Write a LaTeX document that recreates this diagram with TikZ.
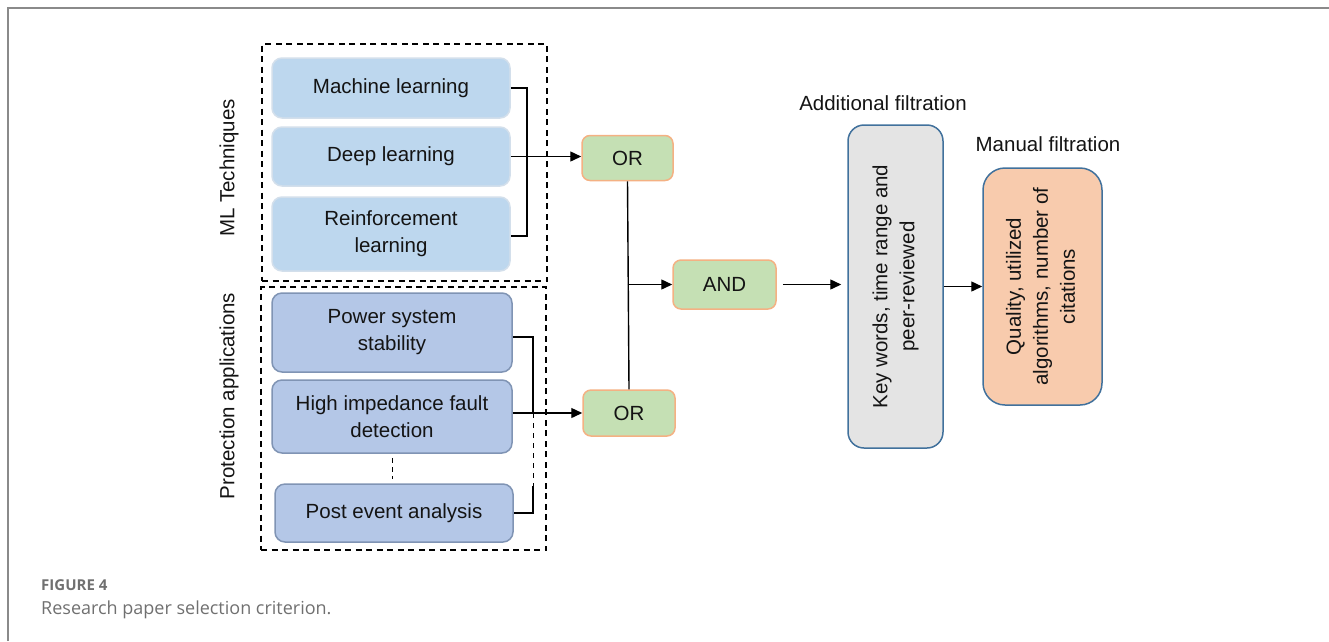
\documentclass[tikz,border=0pt]{standalone}
\usepackage{fontspec}
\setmainfont{Liberation Sans}
\newfontfamily\capfont{Open Sans}
\usetikzlibrary{arrows.meta}
\definecolor{mlfill}{HTML}{BDD7EE}
\definecolor{mlborder}{HTML}{D3DFEB}
\definecolor{pafill}{HTML}{B4C7E7}
\definecolor{paborder}{HTML}{8094B4}
\definecolor{orfill}{HTML}{C5E0B4}
\definecolor{orborder}{HTML}{F4B183}
\definecolor{keyfill}{HTML}{E4E4E4}
\definecolor{blueborder}{HTML}{41719C}
\definecolor{qfill}{HTML}{F8CBAD}
\definecolor{framegray}{HTML}{8A8A8A}
\definecolor{capgray}{HTML}{707070}
\definecolor{txt}{HTML}{141414}
\tikzset{
  base/.style={draw, line width=1.5pt, rounded corners=10pt, align=center, inner sep=0pt,
    text=txt, font=\fontsize{20.5}{27}\selectfont},
  mlbox/.style={base, fill=mlfill, draw=mlborder, minimum width=238pt},
  pabox/.style={base, fill=pafill, draw=paborder, minimum width=240pt},
  gatebox/.style={base, fill=orfill, draw=orborder, rounded corners=8pt},
  keybox/.style={base, fill=keyfill, draw=blueborder, rounded corners=16pt},
  qbox/.style={base, fill=qfill, draw=blueborder, rounded corners=22pt},
  grp/.style={draw, dashed, line width=1.8pt, dash pattern=on 6pt off 4.5pt, inner sep=0pt},
  conn/.style={line width=1.4pt, black},
  arr/.style={conn, -{Triangle[length=11pt,width=10pt]}},
  lbl/.style={text=txt, font=\fontsize{20.5}{27}\selectfont, inner sep=0pt}
}
\begin{document}
\begin{tikzpicture}[x=1pt,y=-1pt]
\useasboundingbox (0,0) rectangle (1329,641);
\draw[framegray, line width=2pt] (8,641) -- (8,7.5) -- (1329,7.5);

% groups
\node[grp, minimum width=285pt, minimum height=237pt] (mlgrp) at (404.5,162.5) {};
\node[grp, minimum width=285pt, minimum height=263pt] (pagrp) at (403.5,418.5) {};

% ML boxes
\node[mlbox, minimum height=60pt] (ml) at (391,88) {Machine learning};
\node[mlbox, minimum height=59pt] (dl) at (391,156.5) {Deep learning};
\node[mlbox, minimum height=74pt] (rl) at (391,234) {Reinforcement\\learning};

% Protection boxes
\node[pabox, minimum height=79pt] (ps) at (392,332.5) {Power system\\stability};
\node[pabox, minimum height=73pt] (hi) at (392,416.5) {High impedance fault\\detection};
\node[pabox, minimum width=238pt, minimum height=58pt] (pe) at (394,513) {Post event analysis};

% side labels
\node[lbl, rotate=90] (mllbl) at (229,168) {ML Techniques};
\node[lbl, rotate=90] (palbl) at (229,396) {Protection applications};

% gates
\node[gatebox, minimum width=91pt, minimum height=45pt] (or1) at (627.5,158) {OR};
\node[gatebox, minimum width=92pt, minimum height=46pt] (or2) at (629,413) {OR};
\node[gatebox, minimum width=103pt, minimum height=49pt] (and) at (724.5,284.5) {AND};

% filtration
\node[keybox, minimum width=95pt, minimum height=323pt] (key) at (895.5,286.5)
  {\rotatebox{90}{\begin{tabular}{@{}c@{}}Key words, time range and\\peer-reviewed\end{tabular}}};
\node[qbox, minimum width=119pt, minimum height=237pt] (qual) at (1042.5,286.5)
  {\rotatebox{90}{\begin{tabular}{@{}c@{}}Quality, utilized\\algorithms, number of\\citations\end{tabular}}};
\node[lbl] (addlbl) at (883,103) {Additional filtration};
\node[lbl] (manlbl) at (1048,144) {Manual filtration};

% bracket 1
\coordinate (b1t) at (527,88);
\coordinate (b1b) at (527,236);
\draw[conn] (ml.east) -- (b1t) -- (b1b) -- (rl.east |- b1b);
\draw[arr] (dl.east) -- (or1.west |- dl.east);

% bracket 2
\coordinate (b2t) at (533,337);
\coordinate (b2m) at (533,413);
\coordinate (b2n) at (533,486);
\coordinate (b2b) at (533,513);
\draw[conn] (ps.east |- b2t) -- (b2t) -- (b2m);
\draw[line width=1pt, dash pattern=on 5pt off 5pt] (b2m) -- (b2n);
\draw[conn] (b2n) -- (b2b) -- (pe.east |- b2b);
\draw[arr] (hi.east |- or2.west) -- (or2.west);
\draw[line width=1pt, dash pattern=on 5pt off 4pt, shorten <=4pt, shorten >=4pt] (hi.south) -- (hi.south |- pe.north);

% OR -> AND
\draw[conn] (or1.south) -- (or2.north);
\coordinate (jn) at (or1.south |- and.west);
\draw[arr] (jn) -- (and.west);
\draw[arr, shorten <=6pt, shorten >=6pt] (and.east) -- (key.west |- and.east);
\draw[arr] (key.east) -- (qual.west);

% caption
\node[anchor=base west, inner sep=0pt, text=capgray, font=\capfont\bfseries\fontsize{15}{18}\selectfont] (figlbl) at (41,590) {FIGURE 4};
\node[anchor=base west, inner sep=0pt, text=capgray, font=\capfont\fontsize{18}{21}\selectfont] (caption) at (41,614) {Research paper selection criterion.};
\end{tikzpicture}
\end{document}
